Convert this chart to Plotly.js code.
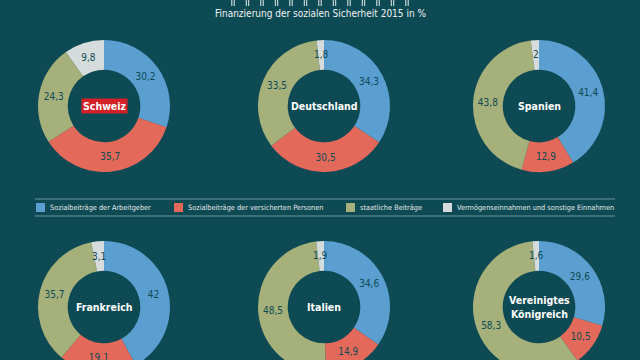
<!DOCTYPE html>
<html>
<head>
<meta charset="utf-8">
<script src="https://cdn.plot.ly/plotly-3.0.1.min.js"></script>
<style>
  html, body { margin: 0; padding: 0; overflow: hidden; background: #0e4a54; }
  #chart { width: 640px; height: 420px; }
</style>
</head>
<body>
<div id="chart"></div>
<script>
// ---- data ----
const countries = ['Schweiz', 'Deutschland', 'Spanien', 'Frankreich', 'Italien', 'Vereinigtes<br>Königreich'];
const categories = ['Sozialbeiträge der Arbeitgeber', 'Sozialbeiträge der versicherten Personen', 'staatliche Beiträge', 'Vermögenseinnahmen und sonstige Einnahmen'];
const arbeitgeber = [30.2, 34.3, 41.4, 42, 34.6, 29.6];
const versicherte = [35.7, 30.5, 12.9, 19.1, 14.9, 10.5];
const staatlich   = [24.3, 33.5, 43.8, 35.7, 48.5, 58.3];
const sonstige    = [9.8, 1.8, 2, 3.1, 1.9, 1.6];
const chartTitle = 'Finanzierung der sozialen Sicherheit 2015 in %';

// ---- style ----
const BG = '#0e4a54';
const colors = ['#5a9fd0', '#e3695a', '#a5b07a', '#d6dcdc'];
const FONT = '"Liberation Sans Narrow", "DejaVu Sans Condensed", Roboto, sans-serif';
const W = 640, H = 420;
const colX = [104, 324, 539];
const rowY = [106, 307];
const R = 66;
const HOLE = 0.55;
const SMALL = 5; // slices thinner than this get their label placed at mid-ring

function fmt(v) { return String(v).replace('.', ','); }

const traces = [];
const annotations = [];
const shapes = [];

countries.forEach((c, i) => {
  const cx = colX[i % 3], cy = rowY[Math.floor(i / 3)];
  const dx = [(cx - R) / W, (cx + R) / W];
  const dy = [1 - (cy + R) / H, 1 - (cy - R) / H];
  const vals = [arbeitgeber[i], versicherte[i], staatlich[i], sonstige[i]];
  const total = vals.reduce((a, b) => a + b, 0);
  const isCH = c === 'Schweiz';
  traces.push({
    type: 'pie',
    labels: categories,
    values: vals,
    text: vals.map(v => v < SMALL ? '' : fmt(v)),
    textinfo: 'text',
    textposition: 'inside',
    insidetextorientation: 'horizontal',
    insidetextfont: { family: FONT, size: 10, color: BG },
    hole: HOLE,
    sort: false,
    direction: 'clockwise',
    rotation: 0,
    marker: { colors: colors, line: { width: 0 } },
    domain: { x: dx, y: dy },
    showlegend: false,
    hoverinfo: 'label+percent'
  });
  // labels for thin slices, at the middle of the ring
  let cum = 0;
  vals.forEach(v => {
    const mid = (cum + v / 2) / total;
    cum += v;
    if (v < SMALL) {
      const th = 2 * Math.PI * mid;
      const rr = R * (1 + HOLE) / 2;
      annotations.push({
        xref: 'paper', yref: 'paper',
        x: (cx + rr * Math.sin(th)) / W, y: 1 - (cy - rr * Math.cos(th)) / H,
        xanchor: 'center', yanchor: 'middle',
        text: fmt(v), showarrow: false,
        font: { family: FONT, size: 10, color: BG }
      });
    }
  });
  // country name in the hole
  annotations.push({
    xref: 'paper', yref: 'paper',
    x: (dx[0] + dx[1]) / 2, y: (dy[0] + dy[1]) / 2,
    xanchor: 'center', yanchor: 'middle',
    text: '<b>' + c + '</b>', showarrow: false,
    font: { family: FONT, size: 10.5, color: '#ffffff' },
    bgcolor: isCH ? '#d42027' : 'rgba(0,0,0,0)', borderpad: 1
  });
});

// title
annotations.push({
  xref: 'paper', yref: 'paper', x: 0.5, y: 1 - 14 / H,
  xanchor: 'center', yanchor: 'middle',
  text: chartTitle, showarrow: false,
  font: { family: FONT, size: 10, color: '#eef2f2' }
});

// decorative marks at the very top (cut-off header)
for (let k = 0; k < 13; k++) {
  const x0 = 233 + k * 14.5;
  [-1.2, 1.2].forEach(o => {
    shapes.push({
      type: 'line', xref: 'paper', yref: 'paper',
      x0: (x0 + o) / W, x1: (x0 + o) / W, y0: 1, y1: 1 - 6 / H,
      line: { color: '#e8eeee', width: 1 }
    });
  });
}

// legend (manual, keyed by categories)
const legX = [36, 174, 346, 443];
const legY = 207.5;
categories.forEach((cat, j) => {
  shapes.push({
    type: 'rect', xref: 'paper', yref: 'paper',
    x0: legX[j] / W, x1: (legX[j] + 9) / W,
    y0: 1 - (legY + 4.5) / H, y1: 1 - (legY - 4.5) / H,
    fillcolor: colors[j], line: { width: 0 }
  });
  annotations.push({
    xref: 'paper', yref: 'paper',
    x: (legX[j] + 12) / W, y: 1 - legY / H,
    xanchor: 'left', yanchor: 'middle',
    text: cat, showarrow: false,
    font: { family: FONT, size: 7.3, color: '#e2e8e8' }
  });
});
[199, 216].forEach(yy => {
  shapes.push({
    type: 'line', xref: 'paper', yref: 'paper',
    x0: 35 / W, x1: 615 / W, y0: 1 - yy / H, y1: 1 - yy / H,
    line: { color: '#6b959b', width: 1 }
  });
});

const layout = {
  width: W, height: H,
  margin: { l: 0, r: 0, t: 0, b: 0 },
  paper_bgcolor: BG, plot_bgcolor: BG,
  showlegend: false,
  uniformtext: { minsize: 10, mode: 'show' },
  annotations: annotations,
  shapes: shapes
};

Plotly.newPlot('chart', traces, layout, { displayModeBar: false, staticPlot: true });
</script>
</body>
</html>
